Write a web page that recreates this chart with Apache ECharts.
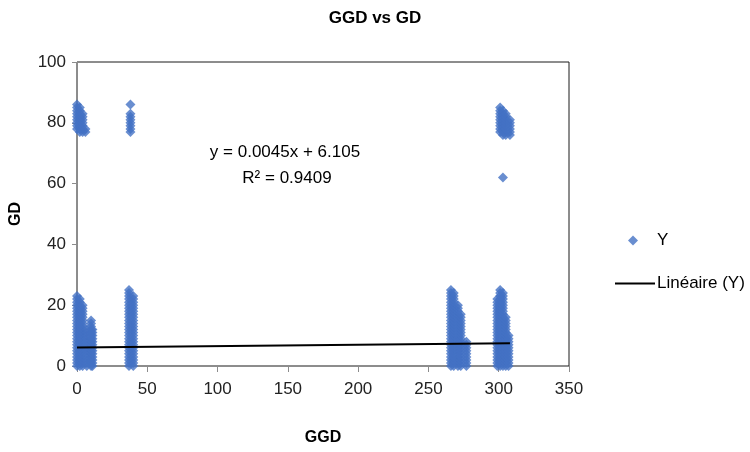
<!DOCTYPE html>
<html>
<head>
<meta charset="utf-8">
<script src="https://cdn.jsdelivr.net/npm/echarts@6/dist/echarts.min.js"></script>
<style>
  html, body { margin: 0; padding: 0; background: #fff; }
  #chart { width: 750px; height: 452px; }
</style>
</head>
<body>
<div id="chart"></div>
<script>
const ggdCols = [0, 2, 4, 7, 10, 11, 0, 2, 4, 6, 37, 40, 38, 266, 268, 271, 273, 277, 299, 301, 303, 305, 307, 301, 303, 305, 308, 303];
const gdCols = [
  [0,1,2,3,4,5,6,7,8,9,10,11,12,13,14,15,16,17,18,19,20,21,22,23],
  [0,1,2,3,4,5,6,7,8,9,10,11,12,13,14,15,16,17,18,19,20,21,22],
  [0,1,2,3,4,5,6,7,8,9,10,11,12,13,14,15,16,17,18,19,20],
  [0,1,2,3,4,5,6,7,8,9,10,11,12],
  [0,1,2,3,4,5,6,7,8,9,10,11,12,13,14,15],
  [0,1,2,3,4,5,6,7,8,9,10,11,12],
  [78,79,80,81,82,83,84,85,86],
  [77,78,79,80,81,82,83,84,85],
  [77,78,79,80,81,82,83],
  [77,78],
  [0,1,2,3,4,5,6,7,8,9,10,11,12,13,14,15,16,17,18,19,20,21,22,23,24,25],
  [0,1,2,3,4,5,6,7,8,9,10,11,12,13,14,15,16,17,18,19,20,21,22,23],
  [77,78,79,80,81,82,83,86],
  [0,1,2,3,4,5,6,7,8,9,10,11,12,13,14,15,16,17,18,19,20,21,22,23,24,25],
  [0,1,2,3,4,5,6,7,8,9,10,11,12,13,14,15,16,17,18,19,20,21,22,23,24],
  [0,1,2,3,4,5,6,7,8,9,10,11,12,13,14,15,16,17,18,19,20],
  [0,1,2,3,4,5,6,7,8,9,10,11,12,13,14,15,16,17],
  [0,1,2,3,4,5,6,7,8],
  [0,1,2,3,4,5,6,7,8,9,10,11,12,13,14,15,16,17,18,19,20,21,22],
  [0,1,2,3,4,5,6,7,8,9,10,11,12,13,14,15,16,17,18,19,20,21,22,23,24,25],
  [0,1,2,3,4,5,6,7,8,9,10,11,12,13,14,15,16,17,18,19,20,21,22,23,24],
  [0,1,2,3,4,5,6,7,8,9,10,11,12,13,14,15,16],
  [0,1,2,3,4,5,6,7,8,9,10],
  [77,78,79,80,81,82,83,84,85],
  [76,77,78,79,80,81,82,83,84],
  [76,77,78,79,80,81,82,83],
  [76,77,78,79,80,81],
  [62]
];
// linear trend line end points (y = 0.0045x + 6.105)
const trendX = [0, 308];
const trendY = [6.105, 7.491];

const xTicks = [0, 50, 100, 150, 200, 250, 300, 350];
const yTicks = [0, 20, 40, 60, 80, 100];

var points = [];
for (let i = 0; i < ggdCols.length; i++) {
  for (let j = 0; j < gdCols[i].length; j++) {
    points.push([ggdCols[i], gdCols[i][j]]);
  }
}
var trend = [];
for (let i = 0; i < trendX.length; i++) {
  trend.push([trendX[i], trendY[i]]);
}

var chart = echarts.init(document.getElementById('chart'));
var font = 'Liberation Sans';
var option = {
  animation: false,
  title: {
    text: 'GGD vs GD',
    left: 'center',
    top: 5,
    textStyle: { fontFamily: font, fontSize: 17, fontWeight: 'bold', color: '#000' }
  },
  grid: {
    left: 77, right: 181, top: 62, bottom: 86,
    outerBoundsMode: 'none',
    containLabel: false,
    show: true, borderColor: '#1a1a1a', borderWidth: 1
  },
  legend: [
    {
      data: [{ name: 'Y', icon: 'diamond' }],
      orient: 'vertical',
      left: 623, top: 227,
      itemWidth: 10, itemHeight: 10,
      textStyle: { fontFamily: font, fontSize: 17, color: '#000', padding: [0, 0, 0, 14] }
    },
    {
      data: [{ name: 'Linéaire (Y)', icon: 'rect' }],
      orient: 'vertical',
      left: 610, top: 270,
      itemWidth: 40, itemHeight: 2,
      textStyle: { fontFamily: font, fontSize: 17, color: '#000', padding: [0, 0, 0, -3] }
    }
  ],
  xAxis: {
    type: 'value',
    min: 0, max: 350, interval: 50,
    name: 'GGD',
    nameLocation: 'middle',
    nameGap: 64,
    nameTextStyle: { fontFamily: font, fontSize: 16, fontWeight: 'bold', color: '#000' },
    axisLine: { show: true, lineStyle: { color: '#8c8c8c', width: 1 } },
    axisTick: { show: true, length: 6, lineStyle: { color: '#8c8c8c' } },
    axisLabel: {
      fontFamily: font, fontSize: 17, color: '#222', margin: 15,
      formatter: function (v) { return xTicks.indexOf(v) >= 0 ? String(v) : ''; }
    },
    splitLine: { show: false }
  },
  yAxis: {
    type: 'value',
    min: 0, max: 100, interval: 20,
    name: 'GD',
    nameLocation: 'middle',
    nameGap: 53,
    nameRotate: 90,
    nameTextStyle: { fontFamily: font, fontSize: 16, fontWeight: 'bold', color: '#000' },
    axisLine: { show: true, lineStyle: { color: '#8c8c8c', width: 1 } },
    axisTick: { show: true, length: 5, lineStyle: { color: '#8c8c8c' } },
    axisLabel: {
      fontFamily: font, fontSize: 17, color: '#222', margin: 11,
      formatter: function (v) { return yTicks.indexOf(v) >= 0 ? String(v) : ''; }
    },
    splitLine: { show: false }
  },
  graphic: [
    {
      type: 'text', x: 285, y: 152,
      style: { text: 'y = 0.0045x + 6.105', fontFamily: font, fontSize: 17, fill: '#000',
        textAlign: 'center', textVerticalAlign: 'middle' }
    },
    {
      type: 'text', x: 287, y: 178,
      style: { text: 'R² = 0.9409', fontFamily: font, fontSize: 17, fill: '#000',
        textAlign: 'center', textVerticalAlign: 'middle' }
    }
  ],
  series: [
    {
      name: 'Y',
      type: 'scatter',
      symbol: 'diamond',
      symbolSize: 10,
      itemStyle: { color: '#4472C4' },
      data: points
    },
    {
      name: 'Linéaire (Y)',
      type: 'line',
      showSymbol: false,
      symbol: 'none',
      lineStyle: { color: '#000', width: 2 },
      itemStyle: { color: '#000' },
      data: trend
    }
  ]
};
chart.setOption(option);
</script>
</body>
</html>
